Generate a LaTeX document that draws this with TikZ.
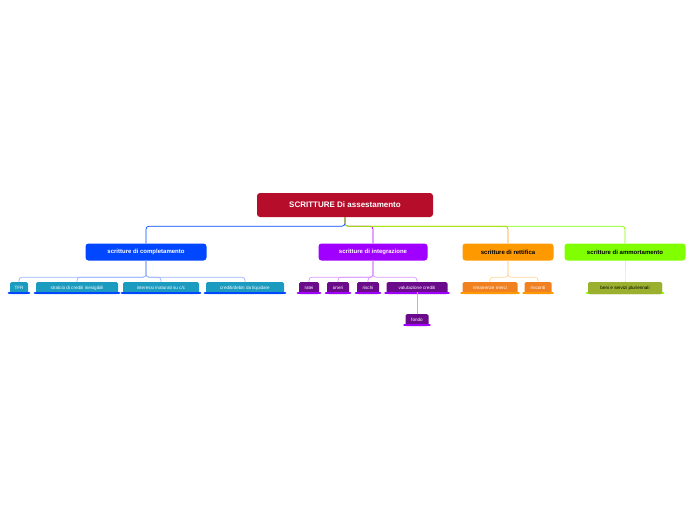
\documentclass[tikz,border=0pt]{standalone}
\usepackage{fontspec}
\setmainfont{Liberation Sans}
\begin{document}
\begin{tikzpicture}[x=1pt,y=-1pt,
  rootbox/.style={fill=red!70!black!90!magenta, rounded corners=3pt, text=white, font=\bfseries\fontsize{8}{9}\selectfont, minimum width=176pt, minimum height=24pt, inner sep=1pt},
  lone/.style={fill=#1, rounded corners=3pt, font=\bfseries\fontsize{6}{7}\selectfont, minimum height=17pt, inner sep=2pt},
  ltwo/.style={fill=#1, rounded corners=1.5pt, text=white, font=\fontsize{4.6}{5}\selectfont, minimum height=12pt, inner sep=1.5pt},
  bar/.style={line width=2.2pt, line cap=round, draw=#1},
  conn/.style={draw=#1, line width=0.7pt, rounded corners=3pt}]
\useasboundingbox (0,0) rectangle (696,520);
\definecolor{cblue}{HTML}{0047FF}\definecolor{cpur}{HTML}{A000FF}
\definecolor{corg}{HTML}{FF9900}\definecolor{cgrn}{HTML}{80FF00}
\definecolor{cteal}{HTML}{1A9BBF}\definecolor{cdpur}{HTML}{6B0A8A}
\definecolor{corg2}{HTML}{F08020}\definecolor{colive}{HTML}{9CB030}
\definecolor{croot}{HTML}{B50D2A}
\node[rootbox, fill=croot] (root) at (345,205) {SCRITTURE D\textsc{i assestamento}};
\node[lone=cblue, text=white, minimum width=121pt] (c) at (146,252) {scritture di completamento};
\node[lone=cpur, text=white, minimum width=109pt] (i) at (373,252) {scritture di integrazione};
\node[lone=corg, text=black, minimum width=91pt] (r) at (508,252) {scritture di rettifica};
\node[lone=cgrn, text=black, minimum width=121pt] (a) at (625,252) {scritture di ammortamento};
\foreach \n/\col in {c/cblue,i/cpur,r/corg,a/cgrn}
  \draw[conn=\col] (root.south) -- ++(0,9) -| (\n.north);
% level 2
\foreach \n/\x/\w/\t/\col/\bc/\p in {
  t1/19/18/{TFR}/cteal/cblue/c,
  t2/77/82/{stralcio di crediti inesigibili}/cteal/cblue/c,
  t3/161/76/{interessi maturati su c/c}/cteal/cblue/c,
  t4/245/78/{crediti/debiti da liquidare}/cteal/cblue/c,
  p1/309/20/{ratei}/cdpur/cpur/i,
  p2/338/22/{oneri}/cdpur/cpur/i,
  p3/368/22/{rischi}/cdpur/cpur/i,
  p4/417/61/{valutazione crediti}/cdpur/cpur/i,
  o1/490/55/{rimanenze merci}/corg2/corg/r,
  o2/538/27/{risconti}/corg2/corg/r,
  g1/625/74/{beni e servizi pluriennali}/colive/cgrn/a}{
  \node[ltwo=\col, minimum width=\w pt] (\n) at (\x,288) {\t};
  \draw[bar=\bc] ([xshift=-1pt,yshift=1pt]\n.south west) -- ([xshift=1pt,yshift=1pt]\n.south east);
  \draw[conn=\bc!40] (\p.south) -- ++(0,16.5) -| (\n.north);
}
\node[ltwo=cdpur, minimum width=23pt] (f) at (417,320) {fondo};
\draw[bar=cpur] ([xshift=-1pt,yshift=1pt]f.south west) -- ([xshift=1pt,yshift=1pt]f.south east);
\draw[conn=cpur!40] ([yshift=2pt]p4.south) -- (f.north);
\node[ltwo=colive, text=black, minimum width=74pt] at (g1) {beni e servizi pluriennali};
\end{tikzpicture}
\end{document}
